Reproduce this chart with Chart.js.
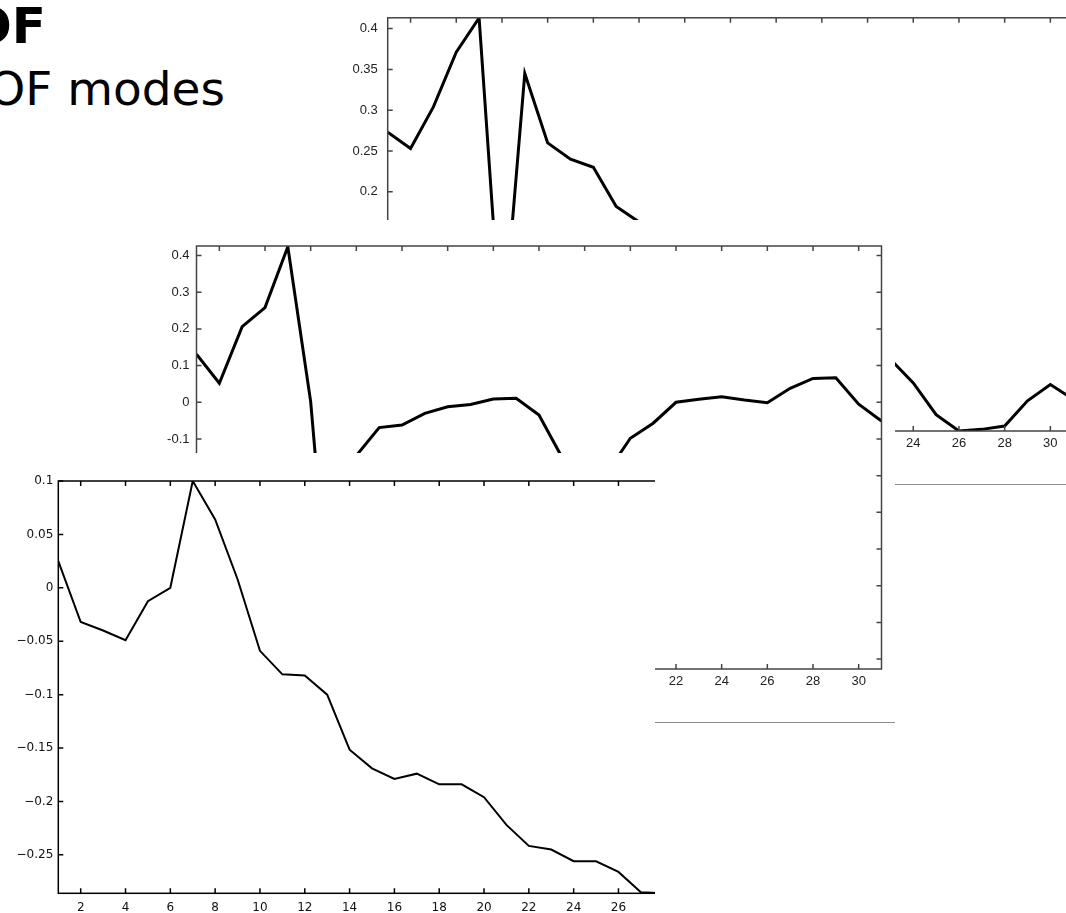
<!DOCTYPE html>
<html>
<head>
<meta charset="utf-8">
<script src="https://cdn.jsdelivr.net/npm/chart.js@4.4.1/dist/chart.umd.min.js"></script>
<style>
  html, body { margin: 0; padding: 0; background: #fff; }
  body { width: 1066px; height: 913px; overflow: hidden; position: relative; }
  .hoja { position: absolute; background: #fff; overflow: hidden; }
  .hoja canvas { position: absolute; left: 0; top: 0; }
  .regla { position: absolute; left: 0; right: 0; height: 1px; background: #8c8c8c; }
  .texto { position: absolute; color: #000; white-space: nowrap; text-align: right; font-family: "DejaVu Sans", Verdana, sans-serif; }
  #titulo { left: -300px; width: 346px; top: 1px; font-size: 50px; line-height: 50px; font-weight: bold; }
  #subtitulo { left: -400px; width: 625px; top: 65px; font-size: 47px; line-height: 47px; }
</style>
</head>
<body>

<div class="texto" id="titulo">EOF</div>
<div class="texto" id="subtitulo">EOF modes</div>

<div class="hoja" id="hojaA" style="left:340px; top:0; width:726px; height:490px; z-index:1;">
  <canvas id="graficaA" width="745" height="490"></canvas>
  <div class="regla" style="top:484px;"></div>
</div>

<div class="hoja" id="hojaB" style="left:140px; top:220px; width:755px; height:515px; z-index:2;">
  <canvas id="graficaB" width="755" height="515"></canvas>
  <div class="regla" style="top:502px;"></div>
</div>

<div class="hoja" id="hojaC" style="left:0; top:453px; width:655px; height:460px; z-index:3;">
  <canvas id="graficaC" width="740" height="460"></canvas>
</div>

<script>
// =============================================
// DATOS
// =============================================

const pasos = [1, 2, 3, 4, 5, 6, 7, 8, 9, 10, 11, 12, 13, 14, 15, 16,
  17, 18, 19, 20, 21, 22, 23, 24, 25, 26, 27, 28, 29, 30, 31];

// modo de arriba (la parte tapada va como null)
const modoA = [0.273, 0.253, 0.304, 0.371, 0.413, 0.01, 0.345, 0.26, 0.24, 0.23,
  0.182, 0.163, 0.14, null, null, null, null, null, null, null, null, null,
  -0.005, -0.034, -0.073, -0.093, -0.091, -0.087, -0.056, -0.036, -0.054];

// modo del medio
const modoB = [0.131, 0.052, 0.206, 0.258, 0.424, 0.002, -0.72, -0.145, -0.069, -0.062,
  -0.03, -0.012, -0.006, 0.009, 0.011, -0.035, -0.149, null, -0.19, -0.098,
  -0.057, 0.0, 0.008, 0.015, 0.006, -0.001, 0.038, 0.065, 0.067, -0.005, -0.051];

// modo de abajo (recortado a la derecha)
const modoC = [0.025, -0.032, -0.04, -0.049, -0.0125, 0.0, 0.1, 0.064, 0.008, -0.059,
  -0.081, -0.082, -0.1, -0.1516, -0.169, -0.179, -0.174, -0.184, -0.184, -0.196,
  -0.222, -0.2416, -0.245, -0.256, -0.256, -0.266, -0.285, -0.286, null, null, null];

const ticksX = [2, 4, 6, 8, 10, 12, 14, 16, 18, 20, 22, 24, 26, 28, 30];
const ticksYA = [-0.05, 0, 0.05, 0.1, 0.15, 0.2, 0.25, 0.3, 0.35, 0.4];
const ticksYB = [-0.7, -0.6, -0.5, -0.4, -0.3, -0.2, -0.1, 0, 0.1, 0.2, 0.3, 0.4];
const ticksYC = [-0.25, -0.2, -0.15, -0.1, -0.05, 0, 0.05, 0.1];

// =============================================
// MARCO CON TICKS HACIA DENTRO (estilo matlab)
// =============================================

const marcoMatlab = {
  id: "marcoMatlab",
  afterDraw(chart, args, opts) {
    const { ctx, chartArea: a, scales } = chart;
    ctx.save();
    ctx.strokeStyle = opts.color;
    ctx.lineWidth = opts.width;
    ctx.strokeRect(a.left, a.top, a.right - a.left, a.bottom - a.top);
    ctx.beginPath();
    scales.x.ticks.forEach((t) => {
      const px = scales.x.getPixelForValue(t.value);
      ctx.moveTo(px, a.bottom);
      ctx.lineTo(px, a.bottom - opts.largo);
      ctx.moveTo(px, a.top);
      ctx.lineTo(px, a.top + opts.largo);
    });
    scales.y.ticks.forEach((t) => {
      const py = scales.y.getPixelForValue(t.value);
      ctx.moveTo(a.left, py);
      ctx.lineTo(a.left + opts.largo, py);
      ctx.moveTo(a.right, py);
      ctx.lineTo(a.right - opts.largo, py);
    });
    ctx.stroke();
    ctx.restore();
  },
};

function formatoNum(v, menos) {
  const s = String(Number(v.toFixed(2)));
  return menos ? s.replace("-", "\u2212") : s;
}

function crearGrafica(id, cfg) {
  const ctx = document.getElementById(id).getContext("2d");
  return new Chart(ctx, {
    type: "line",
    data: {
      datasets: [
        {
          data: pasos.map((p, i) => ({ x: p, y: cfg.serie[i] })),
          borderColor: "#000",
          borderWidth: cfg.grosor,
          pointRadius: 0,
          tension: 0,
          spanGaps: false,
          fill: false,
        },
      ],
    },
    options: {
      responsive: false,
      animation: false,
      events: [],
      layout: { padding: cfg.padding },
      plugins: {
        legend: { display: false },
        tooltip: { enabled: false },
        marcoMatlab: { color: cfg.colorMarco, width: cfg.grosorMarco, largo: cfg.largoTick },
      },
      scales: {
        x: {
          type: "linear",
          min: 1,
          max: 31,
          grid: { display: false, drawTicks: false },
          border: { display: false },
          afterBuildTicks: (s) => { s.ticks = ticksX.map((v) => ({ value: v })); },
          afterFit: (s) => { s.height = cfg.altoX; },
          ticks: {
            padding: cfg.padX,
            color: cfg.colorTexto,
            font: cfg.fuente,
            maxRotation: 0,
            autoSkip: false,
            callback: (v) => String(v),
          },
        },
        y: {
          type: "linear",
          min: cfg.yMin,
          max: cfg.yMax,
          grid: { display: false, drawTicks: false },
          border: { display: false },
          afterBuildTicks: (s) => { s.ticks = cfg.ticksY.map((v) => ({ value: v })); },
          afterFit: (s) => { s.width = cfg.anchoY; },
          ticks: {
            padding: cfg.padY,
            color: cfg.colorTexto,
            font: cfg.fuente,
            autoSkip: false,
            callback: (v) => formatoNum(v, cfg.menosLargo),
          },
        },
      },
    },
    plugins: [marcoMatlab],
  });
}

// =============================================
// GRAFICAS
// =============================================

document.addEventListener("DOMContentLoaded", function () {
  const fuenteMatlab = { family: '"Liberation Sans", Arial, sans-serif', size: 13 };

  crearGrafica("graficaA", {
    serie: modoA, ticksY: ticksYA, yMin: -0.093, yMax: 0.4132,
    padding: { left: 0, top: 9, right: 11.8, bottom: 0 },
    anchoY: 47.7, altoX: 59, padX: 5, padY: 10,
    grosor: 3, colorMarco: "#444", grosorMarco: 1.5, largoTick: 5,
    colorTexto: "#222", fuente: fuenteMatlab, menosLargo: false,
  });

  crearGrafica("graficaB", {
    serie: modoB, ticksY: ticksYB, yMin: -0.727, yMax: 0.426,
    padding: { left: 0, top: 26, right: 13.5, bottom: 0 },
    anchoY: 56.5, altoX: 66, padX: 5, padY: 7,
    grosor: 3, colorMarco: "#444", grosorMarco: 1.5, largoTick: 5,
    colorTexto: "#222", fuente: fuenteMatlab, menosLargo: false,
  });

  crearGrafica("graficaC", {
    serie: modoC, ticksY: ticksYC, yMin: -0.286, yMax: 0.1,
    padding: { left: 0, top: 28, right: 9.5, bottom: 0 },
    anchoY: 58.3, altoX: 19.7, padX: 7, padY: 5,
    grosor: 2, colorMarco: "#000", grosorMarco: 1.5, largoTick: 5,
    colorTexto: "#111", fuente: { family: '"DejaVu Sans", sans-serif', size: 12 }, menosLargo: true,
  });
});
</script>
</body>
</html>
